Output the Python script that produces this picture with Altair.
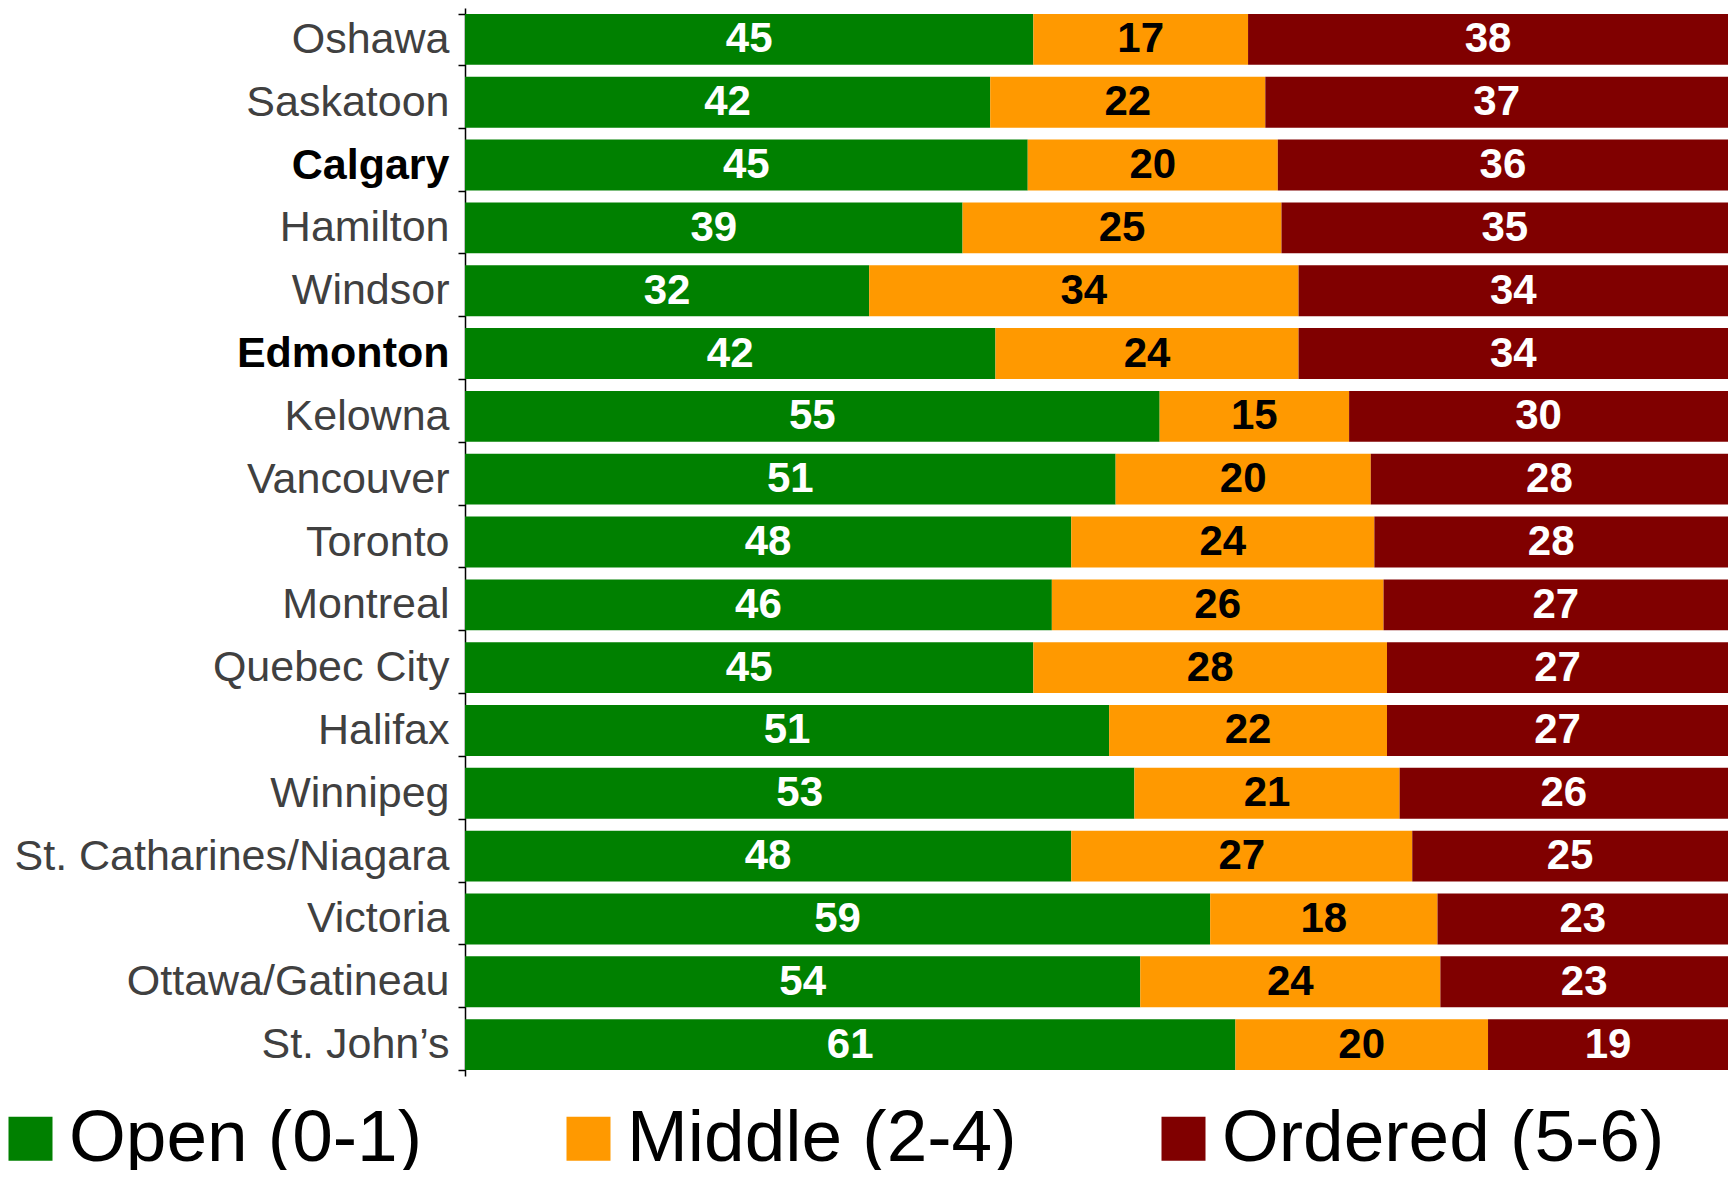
import altair as alt
import pandas as pd

cities = ["Oshawa", "Saskatoon", "Calgary", "Hamilton", "Windsor", "Edmonton",
          "Kelowna", "Vancouver", "Toronto", "Montreal", "Quebec City", "Halifax",
          "Winnipeg", "St. Catharines/Niagara", "Victoria", "Ottawa/Gatineau",
          "St. John\u2019s"]
open_vals = [45, 42, 45, 39, 32, 42, 55, 51, 48, 46, 45, 51, 53, 48, 59, 54, 61]
middle_vals = [17, 22, 20, 25, 34, 24, 15, 20, 24, 26, 28, 22, 21, 27, 18, 24, 20]
ordered_vals = [38, 37, 36, 35, 34, 34, 30, 28, 28, 27, 27, 27, 26, 25, 23, 23, 19]
groups = ["Open (0-1)", "Middle (2-4)", "Ordered (5-6)"]
colors = ["#008000", "#FF9900", "#800000"]
bold_cities = ["Calgary", "Edmonton"]

rows = []
for i, c in enumerate(cities):
    for k, (g, vals) in enumerate(zip(groups, [open_vals, middle_vals, ordered_vals])):
        rows.append({"city": c, "group": g, "order": k, "value": vals[i]})
df = pd.DataFrame(rows)

bold_test = " || ".join(f"datum.value == '{c}'" for c in bold_cities)

y_enc = alt.Y(
    "city:N", sort=cities, title=None,
    scale=alt.Scale(paddingInner=0.19, paddingOuter=0.095),
    axis=alt.Axis(
        labelFontSize=43, labelFont="Liberation Sans", labelLimit=1000,
        labelPadding=9, tickSize=7, tickColor="black", tickWidth=1.5,
        domainColor="black", domainWidth=1.5, tickBand="extent", grid=False,
        labelColor=alt.condition(bold_test, alt.value("black"), alt.value("#404040")),
        labelFontWeight=alt.condition(bold_test, alt.value("bold"), alt.value("normal")),
    ),
)

base = alt.Chart(df).transform_stack(
    stack="value", groupby=["city"], as_=["x0", "x1"], offset="normalize",
    sort=[alt.SortField("order", order="ascending")],
).transform_calculate(mid="(datum.x0 + datum.x1) / 2")

xscale = alt.Scale(domain=[0, 1], nice=False, zero=True)

bars = base.mark_bar().encode(
    x=alt.X("x0:Q", scale=xscale, axis=None),
    x2="x1:Q",
    y=y_enc,
    color=alt.Color(
        "group:N", sort=groups, title=None,
        scale=alt.Scale(domain=groups, range=colors),
        legend=alt.Legend(
            orient="none", direction="horizontal", legendX=-471, legendY=1094,
            symbolType="square", symbolSize=1936, symbolStrokeWidth=0,
            symbolOpacity=1, labelFontSize=73, labelFont="Liberation Sans",
            labelColor="black", labelOffset=2, columnPadding=130, padding=0,
            labelLimit=1000,
        ),
    ),
)

labels = base.mark_text(
    fontSize=42, fontWeight="bold", font="Liberation Sans", baseline="middle"
).encode(
    x=alt.X("mid:Q", scale=xscale, axis=None),
    y=alt.Y("city:N", sort=cities),
    text="value:Q",
    color=alt.condition("datum.group == 'Middle (2-4)'", alt.value("black"), alt.value("white")),
)

chart = alt.layer(bars, labels).properties(
    width=1263, height=1068,
    padding={"left": 457, "top": 0, "right": 0, "bottom": 94},
    autosize=alt.AutoSizeParams(type="none"),
).configure_view(stroke=None)

chart.save("out.html", embed_options={"renderer": "svg", "actions": False})
